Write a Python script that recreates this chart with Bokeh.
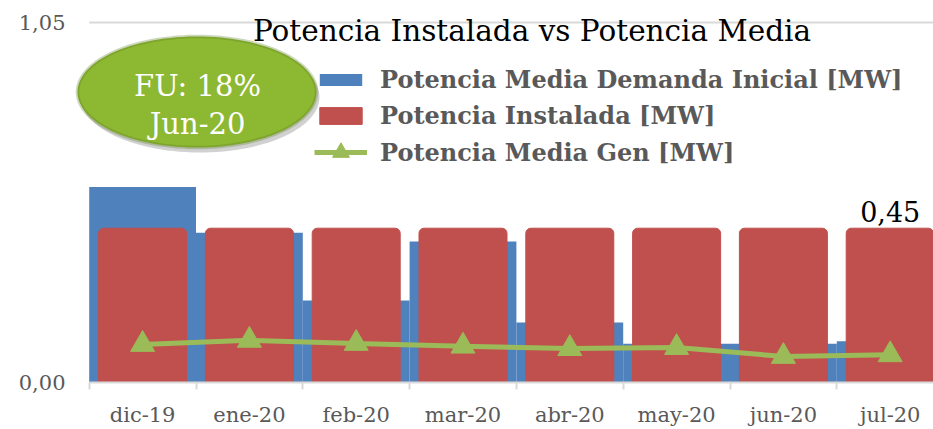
import numpy as np
from bokeh.plotting import figure
from bokeh.models import (ColumnDataSource, Range1d, FixedTicker, Legend, LegendItem,
                          Label, PolyAnnotation)
from bokeh.core.properties import value
from bokeh.embed import file_html
from bokeh.resources import INLINE

# ---------------- data ----------------
months = ["dic-19", "ene-20", "feb-20", "mar-20", "abr-20", "may-20", "jun-20", "jul-20"]
demanda_inicial = [0.570, 0.437, 0.239, 0.411, 0.175, 0.113, 0.113, 0.120]
potencia_instalada = [0.45, 0.45, 0.45, 0.45, 0.45, 0.45, 0.45, 0.45]
potencia_gen = [0.111, 0.123, 0.114, 0.106, 0.099, 0.102, 0.076, 0.081]
y_ticks = [0.0, 1.05]
y_tick_labels = ["0,00", "1,05"]
series_names = ["Potencia Media Demanda Inicial [MW]", "Potencia Instalada [MW]",
                "Potencia Media Gen [MW]"]
title_text = "Potencia Instalada vs Potencia Media"
callout_lines = ["FU: 18%", "Jun-20"]

# ---------------- layout / style ----------------
FONT = "DejaVu Serif"
BLUE, RED, GREEN = "#4F81BD", "#C0504D", "#9BBB59"
GRAY_TXT, GRAY_LINE = "#595959", "#D9D9D9"
W, H = 933, 429
LEFT, BOTTOM = 74, 47
AXIS_START_PX = 88.7    # where the category axis begins
CAT_PX = 106.8          # pixels per category
Y_PX = 342.86           # pixels per unit on y
x_start = -0.5 - (AXIS_START_PX - LEFT) / CAT_PX
x_end = x_start + (W - LEFT) / CAT_PX
y_end = (H - BOTTOM) / Y_PX


def px_x(px):  # canvas pixel -> data x (for annotation placement)
    return x_start + (px - LEFT) / CAT_PX


def px_y(py):  # canvas pixel -> data y
    return (H - BOTTOM - py) / Y_PX


xs = list(range(len(months)))
src = ColumnDataSource(dict(x=xs, dem=demanda_inicial, inst=potencia_instalada, gen=potencia_gen))

p = figure(width=W, height=H, x_range=Range1d(x_start, x_end), y_range=Range1d(0, y_end),
           output_backend="svg", toolbar_location=None,
           min_border_left=LEFT, min_border_right=0, min_border_top=0, min_border_bottom=BOTTOM)
p.outline_line_color = None
p.background_fill_color = "white"
p.border_fill_color = "white"

# axes
p.xaxis.ticker = FixedTicker(ticks=xs, minor_ticks=[i - 0.5 for i in range(len(months))])
p.xaxis.major_label_overrides = {i: m for i, m in enumerate(months)}
p.xaxis.bounds = (-0.5, x_end)
p.xaxis.axis_line_color = GRAY_LINE
p.xaxis.axis_line_width = 2
p.xaxis.major_tick_line_color = None
p.xaxis.major_tick_out = 0
p.xaxis.major_tick_in = 0
p.xaxis.minor_tick_line_color = GRAY_LINE
p.xaxis.minor_tick_line_width = 2
p.xaxis.minor_tick_out = 7
p.xaxis.minor_tick_in = 0
p.xaxis.major_label_text_font = FONT
p.xaxis.major_label_text_font_size = "21px"
p.xaxis.major_label_text_color = GRAY_TXT
p.xaxis.major_label_standoff = 13

p.yaxis.ticker = FixedTicker(ticks=y_ticks, minor_ticks=[])
p.yaxis.major_label_overrides = {t: l for t, l in zip(y_ticks, y_tick_labels)}
p.yaxis.axis_line_color = None
p.yaxis.major_tick_line_color = None
p.yaxis.minor_tick_line_color = None
p.yaxis.major_label_text_font = FONT
p.yaxis.major_label_text_font_size = "21px"
p.yaxis.major_label_text_color = GRAY_TXT
p.yaxis.major_label_standoff = 3

p.xgrid.grid_line_color = None
p.ygrid.grid_line_color = None
# horizontal gridline at the top tick, limited to the category axis extent
p.segment(x0=[-0.5], x1=[x_end], y0=[y_ticks[-1]], y1=[y_ticks[-1]],
          line_color=GRAY_LINE, line_width=2)

# glyphs
r_dem = p.vbar(x="x", top="dem", width=1.0, source=src, fill_color=BLUE, line_color=None)
r_inst = p.vbar(x="x", top="inst", width=0.824, source=src, fill_color=RED, line_color=RED,
                line_width=1, border_radius=(5, 5, 0, 0))
r_line = p.line(x="x", y="gen", source=src, line_color=GREEN, line_width=5)
r_mark = p.scatter(x="x", y="gen", source=src, marker="triangle", size=24,
                   fill_color=GREEN, line_color=GREEN)

# value label of last installed bar
last = len(months) - 1
p.text(x=[xs[last]], y=[potencia_instalada[last]],
       text=[f"{potencia_instalada[last]:.2f}".replace(".", ",")],
       text_font=value(FONT), text_font_size="27px", text_color="black",
       text_align="center", text_baseline="alphabetic", y_offset=-17)

# title
p.add_layout(Label(x=px_x(531.5), y=px_y(30), text=title_text, text_font=FONT,
                   text_font_size="29.5px", text_color="black",
                   text_align="center", text_baseline="alphabetic"))

# legend: one entry per legend so that each keeps its own swatch size
legend_specs = [
    (series_names[0], [r_dem], 15, 80),
    (series_names[1], [r_inst], 21, 116),
    (series_names[2], [r_line, r_mark], 42, 152),
]
for label, rends, gh, center in legend_specs:
    hh = max(gh, 28)
    lg = Legend(items=[LegendItem(label=label, renderers=rends)],
                location=(320 - LEFT - 6, H - BOTTOM - (center + hh / 2)),
                orientation="vertical",
                label_text_font=FONT, label_text_font_size="24px", label_text_font_style="bold",
                label_text_color=GRAY_TXT, glyph_width=53, glyph_height=gh, label_height=28,
                label_standoff=13, spacing=0, padding=0, margin=0,
                border_line_color=None, background_fill_alpha=0)
    p.add_layout(lg)

# callout ellipse
cx, cy = 196.5, 91.5
rx, ry = 119.5, 55.5
t = np.linspace(0, 2 * np.pi, 120)
ex = cx + rx * np.cos(t)
ey = cy + ry * np.sin(t)
p.add_layout(PolyAnnotation(xs=[px_x(v + 3) for v in ex], ys=[px_y(v + 5) for v in ey],
                            fill_color="black", fill_alpha=0.18, line_color=None))
p.add_layout(PolyAnnotation(xs=[px_x(v) for v in ex], ys=[px_y(v) for v in ey],
                            fill_color="#8DB832", fill_alpha=1.0,
                            line_color="#5B7B22", line_width=3.5))
for txt, base in zip(callout_lines, [85, 123]):
    p.add_layout(Label(x=px_x(197), y=px_y(base), text=txt, text_font=FONT,
                       text_font_size="29px", text_color="white",
                       text_align="center", text_baseline="alphabetic"))

open("out.html", "w").write(file_html(p, INLINE))
